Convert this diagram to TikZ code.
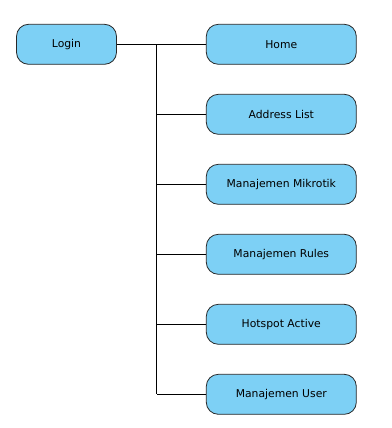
\documentclass[tikz,border=0pt]{standalone}
\usepackage{fontspec}
\setmainfont{DejaVu Sans}
\definecolor{menublue}{RGB}{125,208,245}
\definecolor{menuedge}{RGB}{40,40,40}
\begin{document}
\begin{tikzpicture}[x=1pt,y=-1pt,
    menu/.style={draw=menuedge,fill=menublue,rounded corners=12pt,line width=0.8pt,
      minimum height=40pt,inner sep=0pt,font=\fontsize{10.8}{13}\selectfont},
    link/.style={draw=black,line width=0.8pt}]
  \useasboundingbox (0,0) rectangle (391,428);
  \node[menu,minimum width=100pt] (login) at (66.5,44.3) {Login};
  \node[menu,minimum width=150pt] (home) at (281.3,44.3) {Home};
  \node[menu,minimum width=150pt] (addr) at (281.3,114.3) {Address List};
  \node[menu,minimum width=150pt] (mikro) at (281.3,184.3) {Manajemen Mikrotik};
  \node[menu,minimum width=150pt] (rules) at (281.3,254.3) {Manajemen Rules};
  \node[menu,minimum width=150pt] (hotspot) at (281.3,324.3) {Hotspot Active};
  \node[menu,minimum width=150pt] (user) at (281.3,394.3) {Manajemen User};
  % trunk of the menu tree
  \coordinate (top) at (156.7,44.3);
  \coordinate (bottom) at (156.7,394.3);
  \draw[link] (login.east) -- (home.west);
  \draw[link] (top) -- (bottom);
  \foreach \n in {addr,mikro,rules,hotspot,user}
    \draw[link] (\n.west) -- (\n.west -| top);
\end{tikzpicture}
\end{document}
